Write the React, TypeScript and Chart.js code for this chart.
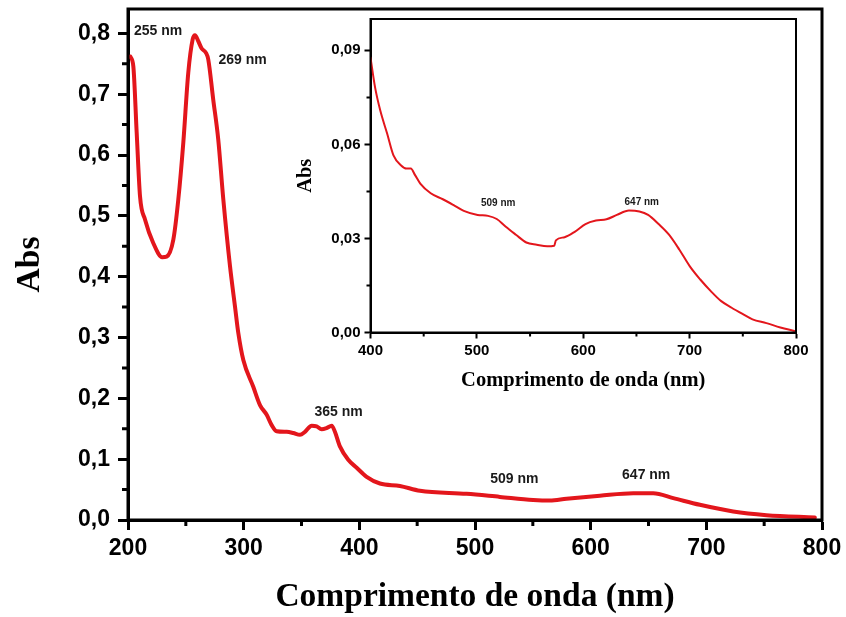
import React, { useEffect, useRef } from 'react';
import { Chart, registerables } from 'chart.js';

Chart.register(...registerables);

// ---------- Data ----------
const MAIN_NM = [
  202, 204.6, 207.5, 210.4, 214.7, 221.9, 229.6, 233.4, 239.2, 243.5, 247.8, 252.1, 255.9, 257.9,
  260.8, 263.7, 267.4, 269.4, 273.7, 278, 282.4, 288.2, 292.5, 295.4, 299.7, 308.3, 314.1, 319.9,
  324.2, 328.5, 337.2, 342.9, 348.7, 353, 358.8, 363.1, 367.4, 371.7, 376.1, 378.9, 383.2, 390.4,
  397.7, 406.3, 417.8, 435.1, 452.4, 492.7, 521.5, 550.3, 564.7, 579.1, 608, 636.8, 654.1, 671.4,
  694.4, 723.2, 752, 793.8,
];
const MAIN_ABS = [
  0.762, 0.746, 0.637, 0.532, 0.494, 0.455, 0.432, 0.433, 0.461, 0.527, 0.62, 0.735, 0.79, 0.797,
  0.787, 0.775, 0.768, 0.757, 0.691, 0.626, 0.527, 0.417, 0.351, 0.307, 0.263, 0.219, 0.189, 0.173,
  0.156, 0.146, 0.145, 0.143, 0.14, 0.145, 0.155, 0.154, 0.149, 0.151, 0.155, 0.145, 0.121, 0.099,
  0.086, 0.071, 0.06, 0.056, 0.048, 0.043, 0.038, 0.033, 0.032, 0.035, 0.04, 0.044, 0.044, 0.036,
  0.025, 0.014, 0.008, 0.004,
];

const INSET_NM = [
  400, 404.3, 409.2, 415.7, 421.6, 428.8, 433.7, 437.9, 441.9, 446.8, 456.6, 468, 477.8, 487.7,
  500.7, 510.5, 518.7, 526.9, 536.7, 546.5, 556.3, 566.1, 572.7, 574.3, 582.5, 592.3, 602.1, 611.9,
  621.8, 631.6, 643, 652.8, 661, 670.8, 680.6, 690.4, 700.2, 710, 719.9, 729.7, 739.5, 749.3,
  759.1, 772.2, 785.3, 798.4,
];
const INSET_ABS = [
  0.0877, 0.0782, 0.0708, 0.0634, 0.0565, 0.0533, 0.0523, 0.0523, 0.0502, 0.0475, 0.0444, 0.0425,
  0.0407, 0.0388, 0.0375, 0.0372, 0.0362, 0.0338, 0.0312, 0.0287, 0.028, 0.0275, 0.0277, 0.0294,
  0.0304, 0.0322, 0.0346, 0.0357, 0.0361, 0.0375, 0.0389, 0.0386, 0.0375, 0.0346, 0.0312, 0.0264,
  0.0211, 0.0169, 0.0132, 0.01, 0.0079, 0.006, 0.0042, 0.003, 0.0016, 0.0005,
];

const MAIN_X_TICKS = [200, 300, 400, 500, 600, 700, 800];
const MAIN_X_MINOR = [250, 350, 450, 550, 650, 750];
const MAIN_Y_TICKS = [0, 0.1, 0.2, 0.3, 0.4, 0.5, 0.6, 0.7, 0.8];
const MAIN_Y_MINOR = [0.05, 0.15, 0.25, 0.35, 0.45, 0.55, 0.65, 0.75];

const INSET_X_TICKS = [400, 500, 600, 700, 800];
const INSET_X_MINOR = [450, 550, 650, 750];
const INSET_Y_TICKS = [0, 0.03, 0.06, 0.09];
const INSET_Y_MINOR = [0.015, 0.045, 0.075];

const MAIN_LABELS = ['255 nm', '269 nm', '365 nm', '509 nm', '647 nm'];
const MAIN_LABEL_NM = [226, 299, 382, 534, 648];
const MAIN_LABEL_ABS = [0.804, 0.756, 0.177, 0.0675, 0.074];

const INSET_LABELS = ['509 nm', '647 nm'];
const INSET_LABEL_NM = [520, 655];
const INSET_LABEL_ABS = [0.0412, 0.0417];

const X_TITLE = 'Comprimento de onda (nm)';
const Y_TITLE = 'Abs';

// ---------- Styles ----------
const RED = '#e3161c';
const SANS = '"Liberation Sans", Arial, sans-serif';
const SERIF = '"Liberation Serif", "Times New Roman", serif';

type FrameOpts = {
  frameWidth: number;
  minorLen: number;
  xMinor: number[];
  yMinor: number[];
  labels: string[];
  labelNm: number[];
  labelAbs: number[];
  labelFont: string;
};

function framePlugin(id: string, o: FrameOpts) {
  return {
    id,
    afterDraw(chart: any) {
      const { ctx, chartArea: a, scales } = chart;
      const xs = scales.x;
      const ys = scales.y;
      ctx.save();
      ctx.strokeStyle = '#000';
      ctx.lineWidth = o.frameWidth;
      ctx.strokeRect(a.left, a.top, a.right - a.left, a.bottom - a.top);
      ctx.beginPath();
      o.xMinor.forEach((v) => {
        const px = xs.getPixelForValue(v);
        ctx.moveTo(px, a.bottom);
        ctx.lineTo(px, a.bottom + o.minorLen);
      });
      o.yMinor.forEach((v) => {
        const py = ys.getPixelForValue(v);
        ctx.moveTo(a.left, py);
        ctx.lineTo(a.left - o.minorLen, py);
      });
      ctx.stroke();
      ctx.fillStyle = '#1a1a1a';
      ctx.font = o.labelFont;
      ctx.textAlign = 'center';
      ctx.textBaseline = 'middle';
      o.labels.forEach((t, i) => {
        ctx.fillText(t, xs.getPixelForValue(o.labelNm[i]), ys.getPixelForValue(o.labelAbs[i]));
      });
      ctx.restore();
    },
  };
}

function buildConfig(p: {
  nm: number[];
  abs: number[];
  lineWidth: number;
  xMin: number;
  xMax: number;
  yMax: number;
  xTicks: number[];
  yTicks: number[];
  yDigits: number;
  padding: { top: number; right: number; left: number; bottom: number };
  yWidth: number;
  xHeight: number;
  tickLen: number;
  tickWidth: number;
  tickFont: number;
  xTickPad: number;
  yTickPad: number;
  titleFont: number;
  xTitlePad: number;
  yTitlePad: number;
  plugin: any;
}) {
  return {
    type: 'line' as const,
    data: {
      datasets: [
        {
          data: p.nm.map((x, i) => ({ x, y: p.abs[i] })),
          borderColor: RED,
          borderWidth: p.lineWidth,
          pointRadius: 0,
          fill: false,
          cubicInterpolationMode: 'monotone' as const,
          borderJoinStyle: 'round' as const,
          borderCapStyle: 'round' as const,
        },
      ],
    },
    options: {
      animation: false as const,
      responsive: false,
      maintainAspectRatio: false,
      layout: { padding: p.padding },
      plugins: { legend: { display: false }, tooltip: { enabled: false } },
      scales: {
        x: {
          type: 'linear' as const,
          min: p.xMin,
          max: p.xMax,
          afterBuildTicks: (s: any) => {
            s.ticks = p.xTicks.map((v) => ({ value: v }));
          },
          afterFit: (s: any) => {
            s.height = p.xHeight;
            s.paddingLeft = 0;
            s.paddingRight = 0;
          },
          grid: {
            drawOnChartArea: false,
            drawTicks: true,
            tickLength: p.tickLen,
            tickWidth: p.tickWidth,
            tickColor: '#000',
          },
          border: { color: '#000', width: p.tickWidth },
          ticks: {
            color: '#000',
            padding: p.xTickPad,
            maxRotation: 0,
            autoSkip: false,
            font: { family: SANS, size: p.tickFont, weight: 'bold' as const },
            callback: (v: any) => String(v),
          },
          title: {
            display: true,
            text: X_TITLE,
            color: '#000',
            font: { family: SERIF, size: p.titleFont, weight: 'bold' as const },
            padding: { top: 0, bottom: p.xTitlePad },
          },
        },
        y: {
          type: 'linear' as const,
          min: 0,
          max: p.yMax,
          afterBuildTicks: (s: any) => {
            s.ticks = p.yTicks.map((v) => ({ value: v }));
          },
          afterFit: (s: any) => {
            s.width = p.yWidth;
            s.paddingTop = 0;
            s.paddingBottom = 0;
          },
          grid: {
            drawOnChartArea: false,
            drawTicks: true,
            tickLength: p.tickLen,
            tickWidth: p.tickWidth,
            tickColor: '#000',
          },
          border: { color: '#000', width: p.tickWidth },
          ticks: {
            color: '#000',
            padding: p.yTickPad,
            autoSkip: false,
            font: { family: SANS, size: p.tickFont, weight: 'bold' as const },
            callback: (v: any) => Number(v).toFixed(p.yDigits).replace('.', ','),
          },
          title: {
            display: true,
            text: Y_TITLE,
            color: '#000',
            font: { family: SERIF, size: p.titleFont, weight: 'bold' as const },
            padding: { top: p.yTitlePad, bottom: 0 },
          },
        },
      },
    },
    plugins: [p.plugin],
  };
}

export default function App() {
  const mainRef = useRef<HTMLCanvasElement | null>(null);
  const insetRef = useRef<HTMLCanvasElement | null>(null);

  useEffect(() => {
    document.body.style.margin = '0';
    const main = new Chart(
      mainRef.current as HTMLCanvasElement,
      buildConfig({
        nm: MAIN_NM,
        abs: MAIN_ABS,
        lineWidth: 4,
        xMin: 200,
        xMax: 800,
        yMax: 0.84,
        xTicks: MAIN_X_TICKS,
        yTicks: MAIN_Y_TICKS,
        yDigits: 1,
        padding: { top: 9, right: 24, left: 0, bottom: 0 },
        yWidth: 128,
        xHeight: 97,
        tickLen: 10,
        tickWidth: 3,
        tickFont: 23,
        xTickPad: 5,
        yTickPad: 8,
        titleFont: 33.5,
        xTitlePad: 0,
        yTitlePad: 10,
        plugin: framePlugin('mainFrame', {
          frameWidth: 3,
          minorLen: 6,
          xMinor: MAIN_X_MINOR,
          yMinor: MAIN_Y_MINOR,
          labels: MAIN_LABELS,
          labelNm: MAIN_LABEL_NM,
          labelAbs: MAIN_LABEL_ABS,
          labelFont: `bold 14px ${SANS}`,
        }),
      }) as any
    );
    const inset = new Chart(
      insetRef.current as HTMLCanvasElement,
      buildConfig({
        nm: INSET_NM,
        abs: INSET_ABS,
        lineWidth: 2,
        xMin: 400,
        xMax: 800,
        yMax: 0.1,
        xTicks: INSET_X_TICKS,
        yTicks: INSET_Y_TICKS,
        yDigits: 2,
        padding: { top: 19, right: 50, left: 0, bottom: 0 },
        yWidth: 80.5,
        xHeight: 67.5,
        tickLen: 6,
        tickWidth: 2,
        tickFont: 15,
        xTickPad: 3,
        yTickPad: 4,
        titleFont: 20.5,
        xTitlePad: 7,
        yTitlePad: 3,
        plugin: framePlugin('insetFrame', {
          frameWidth: 2,
          minorLen: 4,
          xMinor: INSET_X_MINOR,
          yMinor: INSET_Y_MINOR,
          labels: INSET_LABELS,
          labelNm: INSET_LABEL_NM,
          labelAbs: INSET_LABEL_ABS,
          labelFont: `bold 10px ${SANS}`,
        }),
      }) as any
    );
    return () => {
      main.destroy();
      inset.destroy();
    };
  }, []);

  return (
    <div style={{ position: 'absolute', left: 0, top: 0, width: 846, height: 617, background: '#fff' }}>
      <canvas ref={mainRef} width={846} height={617} style={{ position: 'absolute', left: 0, top: 0 }} />
      <canvas ref={insetRef} width={556} height={400} style={{ position: 'absolute', left: 290, top: 0 }} />
    </div>
  );
}
